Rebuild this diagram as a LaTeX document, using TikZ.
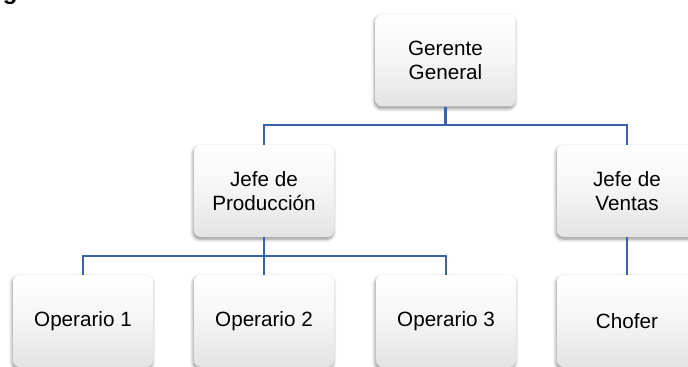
\documentclass[tikz,border=0pt]{standalone}
\usepackage{fontspec}
\setmainfont{Liberation Sans}
\usetikzlibrary{shadows.blur}
\definecolor{linkblue}{HTML}{3A63AD}
\tikzset{
  orgbox/.style={rounded corners=5pt, minimum width=105pt, minimum height=69pt,
    align=center, inner sep=2pt, top color=white, bottom color=black!11,
    middle color=white!96!black,
    font=\fontsize{15.5}{18}\selectfont,
    blur shadow={shadow xshift=-0.6pt, shadow yshift=-1.6pt, shadow blur steps=6, shadow blur radius=2.5pt, shadow opacity=45}},
  link/.style={draw=linkblue, line width=1.6pt}
}
\begin{document}
\begin{tikzpicture}[x=0.75pt,y=-0.75pt]
\useasboundingbox (0,0) rectangle (688,367);
\node[anchor=base west, inner sep=0pt, font=\fontsize{18}{20}\selectfont\bfseries] (frag) at (2.5,0) {g};
\node[orgbox] (gg) at (445.5,60.5) {Gerente\\General};
\node[orgbox] (jp) at (264,191) {Jefe de\\Producción};
\node[orgbox] (jv) at (627,191) {Jefe de\\Ventas};
\node[orgbox] (o1) at (83,321) {Operario 1};
\node[orgbox] (o2) at (264,321) {Operario 2};
\node[orgbox] (o3) at (446,321) {Operario 3};
\node[orgbox] (ch) at (627,321) {Chofer};
\coordinate (t1) at (445.5,125);
\coordinate (t2) at (264,256);
\begin{scope}[on background layer/.style={}]
\draw[link] (gg.south) -- (t1) -| (jp.north);
\draw[link] (t1) -| (jv.north);
\draw[link] (jp.south) -- (t2) -| (o1.north);
\draw[link] (t2) -| (o3.north);
\draw[link] (t2) -- (o2.north);
\draw[link] (jv.south) -- (ch.north);
\end{scope}
\end{tikzpicture}
\end{document}
